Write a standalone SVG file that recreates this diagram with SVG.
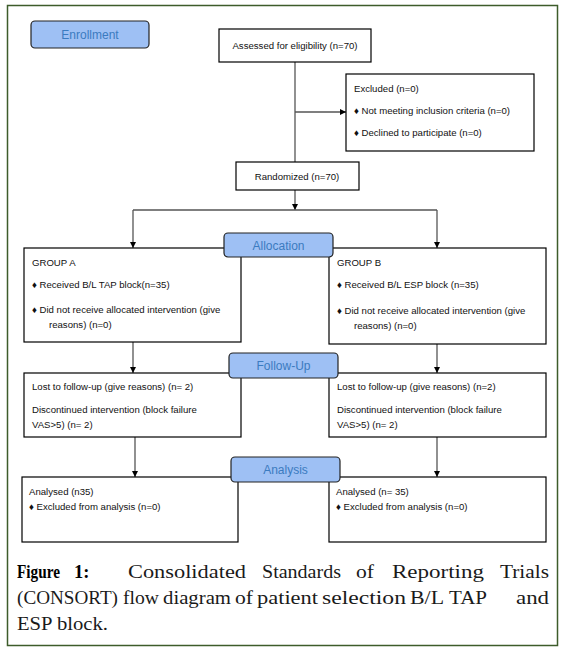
<svg xmlns="http://www.w3.org/2000/svg" width="564" height="651" viewBox="0 0 564 651">
<defs>
<marker id="ah" viewBox="0 0 10 10" refX="10" refY="5" markerWidth="6" markerHeight="6" markerUnits="userSpaceOnUse" orient="auto">
<path d="M0,0 L10,5 L0,10 z" fill="#000"/>
</marker>
<style>
.box{fill:#fff;stroke:#000;stroke-width:1.2}
.lab{fill:#9ec0f4;stroke:#222;stroke-width:1.2}
.labt{font-family:"Liberation Sans",Arial,sans-serif;font-size:12px;fill:#3b7bc0;text-anchor:middle}
.t{font-family:"Liberation Sans",Arial,sans-serif;font-size:9.6px;fill:#111}
.c{fill:none;stroke:#555;stroke-width:1.3}
.cap{font-family:"Liberation Serif","Times New Roman",serif;font-size:18.5px;fill:#1a1a1a}
.capb{font-weight:bold;fill:#000}
</style>
</defs>
<rect x="7.5" y="5.5" width="550" height="640" fill="#fff" stroke="#3d5c2b" stroke-width="1.5"/>

<g id="connectors">
<path class="c" d="M295,62 V162"/>
<path class="c" d="M295,112 H346" marker-end="url(#ah)"/>
<path class="c" d="M295,190 V210" marker-end="url(#ah)"/>
<path class="c" d="M133,210 H437"/>
<path class="c" d="M133,210 V248" marker-end="url(#ah)"/>
<path class="c" d="M437,210 V248" marker-end="url(#ah)"/>
<path class="c" d="M133,342 V373" marker-end="url(#ah)"/>
<path class="c" d="M437,344 V373" marker-end="url(#ah)"/>
<path class="c" d="M135,437 V477" marker-end="url(#ah)"/>
<path class="c" d="M437,437 V477" marker-end="url(#ah)"/>
</g>

<g id="assessed">
<rect class="box" x="219" y="29" width="152" height="33"/>
<text class="t" x="295" y="49" text-anchor="middle">Assessed for eligibility (n=70)</text>
</g>
<g id="excluded">
<rect class="box" x="346" y="74" width="188" height="77"/>
<text class="t" x="354" y="92">Excluded (n=0)</text>
<text class="t" x="354" y="114">♦  Not meeting inclusion criteria (n=0)</text>
<text class="t" x="354" y="136">♦  Declined to participate (n=0)</text>
</g>
<g id="randomized">
<rect class="box" x="236" y="162" width="123" height="28"/>
<text class="t" x="297" y="180" text-anchor="middle">Randomized (n=70)</text>
</g>
<g id="groupA">
<rect class="box" x="24" y="248" width="217" height="94"/>
<text class="t" x="32" y="266">GROUP A</text>
<text class="t" x="32" y="288">♦ Received B/L TAP block(n=35)</text>
<text class="t" x="32" y="313">♦ Did not receive allocated intervention (give</text>
<text class="t" x="49" y="328">reasons) (n=0)</text>
</g>
<g id="groupB">
<rect class="box" x="329" y="248" width="217" height="96"/>
<text class="t" x="337" y="266">GROUP B</text>
<text class="t" x="337" y="288">♦ Received B/L ESP block (n=35)</text>
<text class="t" x="337" y="314">♦ Did not receive allocated intervention (give</text>
<text class="t" x="354" y="329">reasons) (n=0)</text>
</g>
<g id="lostA">
<rect class="box" x="24" y="373" width="217" height="64"/>
<text class="t" x="32" y="390">Lost to follow-up (give reasons) (n= 2)</text>
<text class="t" x="32" y="413">Discontinued intervention (block failure</text>
<text class="t" x="32" y="428">VAS&gt;5) (n= 2)</text>
</g>
<g id="lostB">
<rect class="box" x="329" y="373" width="217" height="64"/>
<text class="t" x="337" y="390">Lost to follow-up (give reasons) (n=2)</text>
<text class="t" x="337" y="413">Discontinued intervention (block failure</text>
<text class="t" x="337" y="428">VAS&gt;5) (n= 2)</text>
</g>
<g id="analysedA">
<rect class="box" x="22" y="477" width="216" height="65"/>
<text class="t" x="29" y="495">Analysed (n35)</text>
<text class="t" x="29" y="510">♦ Excluded from analysis (n=0)</text>
</g>
<g id="analysedB">
<rect class="box" x="329" y="477" width="217" height="65"/>
<text class="t" x="336" y="495">Analysed (n= 35)</text>
<text class="t" x="336" y="510">♦ Excluded from analysis (n=0)</text>
</g>

<g id="enrollment">
<rect class="lab" x="31" y="21" width="118" height="27" rx="4"/>
<text class="labt" x="90" y="39">Enrollment</text>
</g>
<g id="allocation">
<rect class="lab" x="224" y="233" width="109" height="24" rx="4"/>
<text class="labt" x="278.5" y="250">Allocation</text>
</g>
<g id="followup">
<rect class="lab" x="229" y="353" width="109" height="25" rx="4"/>
<text class="labt" x="283.5" y="370">Follow-Up</text>
</g>
<g id="analysis">
<rect class="lab" x="231" y="457" width="109" height="25" rx="4"/>
<text class="labt" x="285.5" y="474">Analysis</text>
</g>

<g id="caption">
<text class="cap capb" x="17" y="578" textLength="43" lengthAdjust="spacingAndGlyphs">Figure</text>
<text class="cap capb" x="74" y="578">1:</text>
<text class="cap" x="128" y="578" textLength="118" lengthAdjust="spacingAndGlyphs">Consolidated</text>
<text class="cap" x="262" y="578" textLength="79" lengthAdjust="spacingAndGlyphs">Standards</text>
<text class="cap" x="356" y="578" textLength="18" lengthAdjust="spacingAndGlyphs">of</text>
<text class="cap" x="392" y="578" textLength="92" lengthAdjust="spacingAndGlyphs">Reporting</text>
<text class="cap" x="500" y="578" textLength="49" lengthAdjust="spacingAndGlyphs">Trials</text>
<text class="cap" x="17" y="604" textLength="101" lengthAdjust="spacingAndGlyphs">(CONSORT)</text>
<text class="cap" x="123" y="604" textLength="36" lengthAdjust="spacingAndGlyphs">flow</text>
<text class="cap" x="163" y="604" textLength="68" lengthAdjust="spacingAndGlyphs">diagram</text>
<text class="cap" x="235" y="604" textLength="18" lengthAdjust="spacingAndGlyphs">of</text>
<text class="cap" x="257" y="604" textLength="61" lengthAdjust="spacingAndGlyphs">patient</text>
<text class="cap" x="322" y="604" textLength="84" lengthAdjust="spacingAndGlyphs">selection</text>
<text class="cap" x="410" y="604" textLength="34" lengthAdjust="spacingAndGlyphs">B/L</text>
<text class="cap" x="449" y="604" textLength="38" lengthAdjust="spacingAndGlyphs">TAP</text>
<text class="cap" x="516" y="604" textLength="33" lengthAdjust="spacingAndGlyphs">and</text>
<text class="cap" x="17" y="630" textLength="91" lengthAdjust="spacingAndGlyphs">ESP block.</text>
</g>
</svg>
